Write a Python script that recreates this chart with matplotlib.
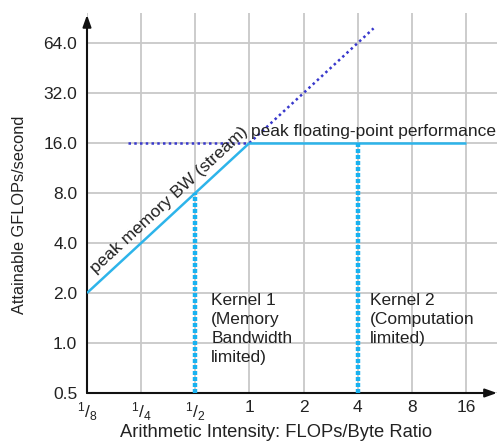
import numpy as np
import matplotlib
matplotlib.use("Agg")
import matplotlib.pyplot as plt

plt.rcParams['font.family'] = ['Liberation Sans', 'DejaVu Sans']
plt.rcParams['mathtext.fontset'] = 'custom'
plt.rcParams['mathtext.rm'] = 'Liberation Sans'
plt.rcParams['mathtext.it'] = 'Liberation Sans'

# data
x_ticks = [1/8, 1/4, 1/2, 1, 2, 4, 8, 16]
x_tick_labels = [r'$^1/_8$', r'$^1/_4$', r'$^1/_2$', '1', '2', '4', '8', '16']
y_ticks = [0.5, 1, 2, 4, 8, 16, 32, 64]
y_tick_labels = ['0.5', '1.0', '2.0', '4.0', '8.0', '16.0', '32.0', '64.0']

bw_x = [1/8, 1]          # peak memory BW (stream)
bw_y = [2, 16]
fp_x = [1, 16]           # peak floating-point performance
fp_y = [16, 16]
ext_h_x = [0.21, 1]      # dotted extension of compute roof
ext_h_y = [16, 16]
ext_d_x = [1, 4.9]       # dotted extension of bandwidth roof
ext_d_y = [16, 78.4]
k1_x = [0.5, 0.5]
k1_y = [0.5, 8]
k2_x = [4, 4]
k2_y = [0.5, 16]

W, H = 498, 441
fig = plt.figure(figsize=(W/100, H/100), dpi=100)
ax = fig.add_axes([87/W, 48/H, (497-87)/W, (393-13)/H])
ax.set_xscale('log', base=2)
ax.set_yscale('log', base=2)
ax.set_xlim(1/8, 1/8 * 2**((497-87)/54.14))
ax.set_ylim(0.5, 0.5 * 2**((393-13)/50.0))

ax.set_xticks(x_ticks)
ax.set_xticklabels(x_tick_labels)
ax.set_yticks(y_ticks)
ax.set_yticklabels(y_tick_labels)
ax.minorticks_off()
ax.tick_params(length=0, labelsize=12.5, colors='#222222', pad=5)
ax.tick_params(axis='y', pad=7)
ax.grid(True, color='#c8c8c8', linewidth=1.3)
ax.set_axisbelow(True)
for s in ['top', 'right', 'left', 'bottom']:
    ax.spines[s].set_visible(False)

# axes with arrows
ax.annotate('', xy=(1.0, 0), xytext=(0, 0), xycoords='axes fraction',
            arrowprops=dict(arrowstyle='-|>,head_length=0.7,head_width=0.25',
                            color='#111111', lw=1.5, shrinkA=0, shrinkB=0),
            annotation_clip=False)
ax.annotate('', xy=(0, 0.995), xytext=(0, 0), xycoords='axes fraction',
            arrowprops=dict(arrowstyle='-|>,head_length=0.7,head_width=0.25',
                            color='#111111', lw=1.5, shrinkA=0, shrinkB=0),
            annotation_clip=False)

light = '#2db4ea'
dark = '#3838cc'
ax.plot(ext_h_x, ext_h_y, color=dark, lw=1.8, linestyle=(0, (1, 1.3)), zorder=3)
ax.plot(ext_d_x, ext_d_y, color=dark, lw=1.8, linestyle=(0, (1, 1.3)), zorder=3)
ax.plot(bw_x, bw_y, color=light, lw=1.8, zorder=4, solid_capstyle='butt')
ax.plot(fp_x, fp_y, color=light, lw=1.8, zorder=4, solid_capstyle='butt')
ax.plot(k1_x, k1_y, color='#19b2f0', lw=3.2, linestyle=(0, (0.9, 0.45)), zorder=4)
ax.plot(k2_x, k2_y, color='#19b2f0', lw=3.2, linestyle=(0, (0.9, 0.45)), zorder=4)

tc = '#222222'
fs = 12.5
ax.text(0.36, 7.3, 'peak memory BW (stream)', rotation=42.7, rotation_mode='anchor',
        ha='center', va='center', fontsize=fs, color=tc)
ax.text(1.02, 16.9, 'peak floating-point performance', ha='left', va='bottom',
        fontsize=fs, color=tc)
ax.text(0.614, 2.0, 'Kernel 1\n(Memory\nBandwidth\nlimited)', ha='left', va='top',
        fontsize=fs, color=tc, linespacing=1.34)
ax.text(4.66, 2.0, 'Kernel 2\n(Computation\nlimited)', ha='left', va='top',
        fontsize=fs, color=tc, linespacing=1.34)

ax.set_xlabel('Arithmetic Intensity: FLOPs/Byte Ratio', fontsize=13.2, color=tc)
ax.set_ylabel('Attainable GFLOPs/second', fontsize=11.8, color=tc)
ax.xaxis.set_label_coords(0.462, -0.082)
ax.yaxis.set_label_coords(-0.146, 0.468)

fig.savefig('out.png', dpi=100)
